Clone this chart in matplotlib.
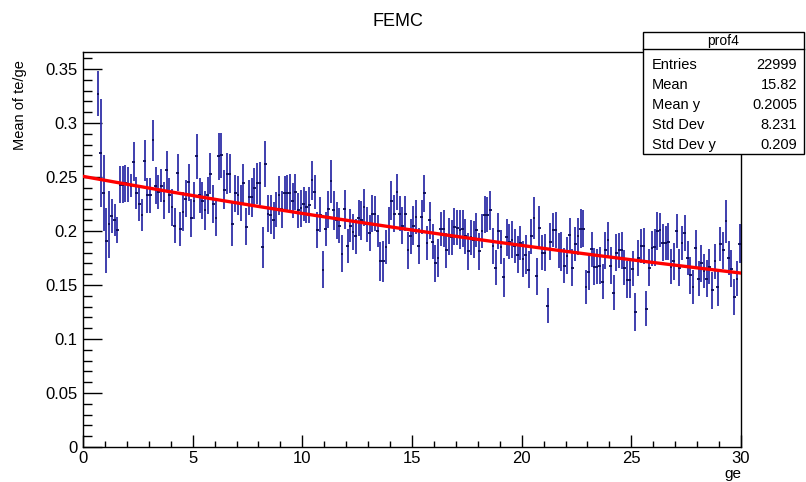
import numpy as np
import matplotlib
matplotlib.use("Agg")
import matplotlib.pyplot as plt
from matplotlib.patches import Rectangle
from matplotlib.ticker import MultipleLocator, FixedLocator

plt.rcParams['font.family'] = ['Liberation Sans', 'DejaVu Sans']

# ---- profile histogram: 240 bins on [0, 30], filled from bin 5 on ----
n_bins = 240
x_min, x_max = 0.0, 30.0
first_bin = 5

bin_means = [
    0.327, 0.272, 0.235, 0.191, 0.206, 0.214, 0.210, 0.201, 0.243, 0.243,
    0.244, 0.243, 0.242, 0.264, 0.235, 0.225, 0.215, 0.265, 0.233, 0.233,
    0.284, 0.242, 0.236, 0.242, 0.228, 0.256, 0.233, 0.222, 0.205, 0.254,
    0.202, 0.218, 0.230, 0.245, 0.212, 0.228, 0.269, 0.233, 0.228, 0.219,
    0.233, 0.253, 0.225, 0.212, 0.269, 0.270, 0.238, 0.253, 0.253, 0.206,
    0.235, 0.233, 0.226, 0.244, 0.204, 0.231, 0.231, 0.240, 0.244, 0.244,
    0.185, 0.262, 0.216, 0.215, 0.210, 0.220, 0.233, 0.220, 0.235, 0.235,
    0.235, 0.228, 0.236, 0.219, 0.221, 0.225, 0.222, 0.224, 0.247, 0.236,
    0.201, 0.215, 0.164, 0.202, 0.220, 0.246, 0.219, 0.210, 0.205, 0.179,
    0.220, 0.186, 0.205, 0.199, 0.195, 0.212, 0.210, 0.222, 0.206, 0.198,
    0.216, 0.216, 0.200, 0.172, 0.172, 0.185, 0.205, 0.228, 0.216, 0.236,
    0.216, 0.205, 0.216, 0.182, 0.195, 0.205, 0.213, 0.186, 0.213, 0.235,
    0.189, 0.210, 0.190, 0.170, 0.175, 0.202, 0.202, 0.182, 0.195, 0.194,
    0.204, 0.203, 0.201, 0.202, 0.195, 0.181, 0.194, 0.192, 0.201, 0.181,
    0.200, 0.215, 0.215, 0.219, 0.186, 0.166, 0.200, 0.185, 0.157, 0.194,
    0.190, 0.192, 0.186, 0.178, 0.189, 0.174, 0.178, 0.164, 0.195, 0.212,
    0.158, 0.203, 0.180, 0.180, 0.131, 0.190, 0.201, 0.201, 0.182, 0.181,
    0.168, 0.177, 0.196, 0.166, 0.188, 0.195, 0.202, 0.202, 0.148, 0.162,
    0.183, 0.167, 0.167, 0.168, 0.153, 0.182, 0.192, 0.168, 0.143, 0.180,
    0.182, 0.182, 0.166, 0.155, 0.155, 0.165, 0.125, 0.175, 0.186, 0.186,
    0.128, 0.166, 0.184, 0.185, 0.200, 0.201, 0.189, 0.189, 0.190, 0.167,
    0.172, 0.200, 0.166, 0.189, 0.198, 0.175, 0.159, 0.148, 0.184, 0.156,
    0.170, 0.163, 0.156, 0.167, 0.145, 0.172, 0.148, 0.188, 0.182, 0.209,
    0.175, 0.165, 0.139, 0.156, 0.188,
]

bin_errors = [
    0.021, 0.050, 0.035, 0.030, 0.031, 0.016, 0.015, 0.012, 0.017, 0.017,
    0.017, 0.016, 0.011, 0.018, 0.015, 0.016, 0.015, 0.019, 0.016, 0.016,
    0.019, 0.017, 0.016, 0.015, 0.017, 0.018, 0.016, 0.017, 0.016, 0.017,
    0.016, 0.018, 0.017, 0.017, 0.018, 0.017, 0.021, 0.016, 0.017, 0.018,
    0.017, 0.019, 0.018, 0.017, 0.022, 0.021, 0.018, 0.019, 0.018, 0.020,
    0.017, 0.018, 0.017, 0.018, 0.017, 0.016, 0.018, 0.018, 0.019, 0.020,
    0.019, 0.021, 0.017, 0.018, 0.017, 0.016, 0.018, 0.017, 0.016, 0.017,
    0.018, 0.016, 0.017, 0.016, 0.017, 0.016, 0.015, 0.017, 0.018, 0.016,
    0.017, 0.016, 0.017, 0.016, 0.017, 0.020, 0.018, 0.017, 0.016, 0.017,
    0.018, 0.016, 0.015, 0.017, 0.016, 0.017, 0.018, 0.017, 0.016, 0.017,
    0.017, 0.016, 0.015, 0.018, 0.019, 0.016, 0.017, 0.018, 0.017, 0.017,
    0.016, 0.017, 0.016, 0.017, 0.016, 0.018, 0.016, 0.017, 0.016, 0.017,
    0.016, 0.017, 0.016, 0.017, 0.018, 0.016, 0.017, 0.016, 0.017, 0.016,
    0.017, 0.016, 0.018, 0.017, 0.016, 0.017, 0.016, 0.017, 0.016, 0.017,
    0.016, 0.017, 0.016, 0.018, 0.017, 0.016, 0.017, 0.016, 0.018, 0.017,
    0.016, 0.017, 0.016, 0.017, 0.016, 0.017, 0.018, 0.017, 0.016, 0.019,
    0.017, 0.020, 0.016, 0.017, 0.016, 0.017, 0.016, 0.017, 0.016, 0.018,
    0.016, 0.017, 0.016, 0.017, 0.016, 0.017, 0.018, 0.017, 0.016, 0.017,
    0.016, 0.017, 0.016, 0.017, 0.016, 0.017, 0.016, 0.017, 0.016, 0.017,
    0.016, 0.017, 0.016, 0.017, 0.017, 0.016, 0.018, 0.017, 0.016, 0.017,
    0.016, 0.017, 0.016, 0.017, 0.018, 0.016, 0.017, 0.016, 0.017, 0.016,
    0.017, 0.016, 0.017, 0.016, 0.017, 0.016, 0.017, 0.016, 0.017, 0.016,
    0.017, 0.016, 0.017, 0.016, 0.017, 0.016, 0.017, 0.016, 0.017, 0.020,
    0.016, 0.017, 0.017, 0.016, 0.018,
]

# exponential fit: exp(p0 + p1*x)
fit_p0 = -1.384
fit_p1 = -0.01474

# statistics box
stats_name = "prof4"
stats_labels = ["Entries", "Mean", "Mean y", "Std Dev", "Std Dev y"]
stats_values = ["22999", "15.82", "0.2005", "8.231", "0.209"]

title = "FEMC"
x_title = "ge"
y_title = "Mean of te/ge"

# ---------------------------------------------------------------------
W, H = 806, 482
fig = plt.figure(figsize=(W / 100, H / 100), dpi=100)

left, right, top, bottom = 83, 741, 52, 447
ax = fig.add_axes([left / W, 1 - bottom / H, (right - left) / W, (bottom - top) / H])

bw = (x_max - x_min) / n_bins
centers = x_min + (np.arange(first_bin, n_bins) + 0.5) * bw
means = np.array(bin_means)
errs = np.array(bin_errors)

ax.errorbar(centers, means, yerr=errs, fmt='none', ecolor='#3030a8',
            elinewidth=1.3, capsize=0, zorder=2)
ax.errorbar(centers, means, xerr=bw / 2, fmt='none', ecolor='#0a0a55',
            elinewidth=1.3, capsize=0, zorder=3)

xf = np.linspace(x_min, x_max, 400)
ax.plot(xf, np.exp(fit_p0 + fit_p1 * xf), color='#ff0000', lw=2.4, zorder=4)

ax.set_xlim(x_min, x_max)
ax.set_ylim(0, 0.3657)

ax.xaxis.set_major_locator(FixedLocator([0, 5, 10, 15, 20, 25, 30]))
ax.xaxis.set_minor_locator(MultipleLocator(1))
yt = [0, 0.05, 0.1, 0.15, 0.2, 0.25, 0.3, 0.35]
ax.yaxis.set_major_locator(FixedLocator(yt))
ax.yaxis.set_minor_locator(MultipleLocator(0.01))
ax.set_yticklabels(["0", "0.05", "0.1", "0.15", "0.2", "0.25", "0.3", "0.35"])
ax.set_xticklabels(["0", "5", "10", "15", "20", "25", "30"])

ax.tick_params(axis='both', which='both', direction='in', top=False, right=False,
               labelsize=12, colors='black', width=1.0)
ax.tick_params(axis='y', which='major', length=13.7, pad=4)
ax.tick_params(axis='y', which='minor', length=6.5)
ax.tick_params(axis='x', which='major', length=8.6, pad=3)
ax.tick_params(axis='x', which='minor', length=4.3)
for s in ax.spines.values():
    s.set_linewidth(1.0)
    s.set_color('black')

# overlay in pixel coordinates for the title, axis titles and stats box
ov = fig.add_axes([0, 0, 1, 1], facecolor='none')
ov.set_xlim(0, W)
ov.set_ylim(H, 0)
ov.axis('off')

ov.text(398, 21, title, ha='center', va='center', fontsize=13)
ov.text(741, 474, x_title, ha='right', va='center', fontsize=11)
ov.text(20, 60, y_title, ha='center', va='top', rotation=90, fontsize=10.5)

bx0, bx1, by0, byh, by1 = 643, 804, 32, 49, 154
ov.add_patch(Rectangle((bx0, by0), bx1 - bx0, by1 - by0, facecolor='white',
                       edgecolor='black', lw=1.0, zorder=5))
ov.plot([bx0, bx1], [byh, byh], color='black', lw=1.0, zorder=6)
ov.text((bx0 + bx1) / 2, (by0 + byh) / 2, stats_name, ha='center', va='center',
        fontsize=10, zorder=7)
row_y = np.linspace(65, 145, len(stats_labels))
for yy, lab, val in zip(row_y, stats_labels, stats_values):
    ov.text(bx0 + 9, yy, lab, ha='left', va='center', fontsize=10.5, zorder=7)
    ov.text(bx1 - 7, yy, val, ha='right', va='center', fontsize=10.5, zorder=7)

fig.savefig("out.png", dpi=100)
